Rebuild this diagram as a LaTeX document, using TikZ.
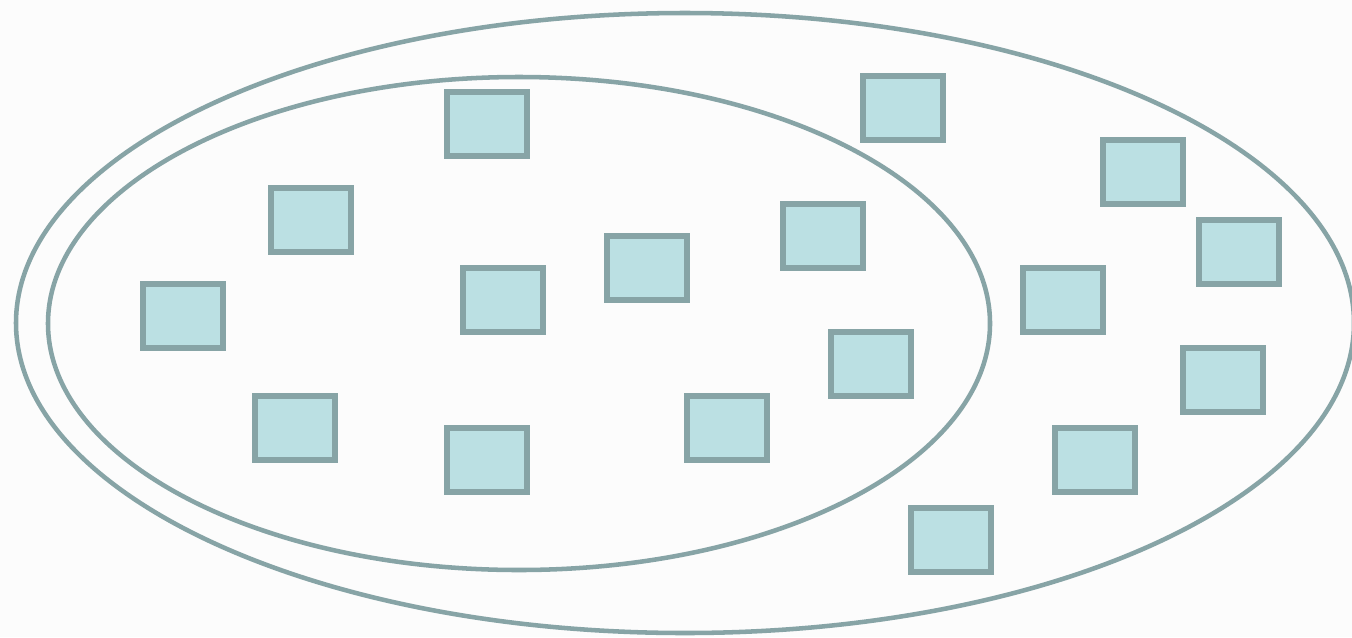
\documentclass[tikz,border=0pt]{standalone}
\usepackage{tikz}
\definecolor{setline}{HTML}{87A4A6}
\definecolor{boxfill}{HTML}{BBE0E3}
\definecolor{paper}{HTML}{FCFCFC}
\tikzset{
  elem/.style={draw=setline, fill=boxfill, line width=3.8pt, minimum width=60pt, minimum height=48pt, inner sep=0pt},
  setring/.style={draw=setline, line width=3.4pt}
}

\begin{document}
\begin{tikzpicture}[x=0.75pt,y=-0.75pt]
\useasboundingbox (0,0) rectangle (1352,637);
\fill[paper] (0,0) rectangle (1352,637);
\draw[setring] (685,323) ellipse (669 and 310);
\draw[setring] (519,323.5) ellipse (471 and 246.5);
\node[elem] (e1) at (487,124) {};
\node[elem] (e2) at (903,108) {};
\node[elem] (e3) at (311,220) {};
\node[elem] (e4) at (1143,172) {};
\node[elem] (e5) at (1239,252) {};
\node[elem] (e6) at (823,236) {};
\node[elem] (e7) at (647,268) {};
\node[elem] (e8) at (503,300) {};
\node[elem] (e9) at (183,316) {};
\node[elem] (e10) at (1063,300) {};
\node[elem] (e11) at (871,364) {};
\node[elem] (e12) at (1223,380) {};
\node[elem] (e13) at (295,428) {};
\node[elem] (e14) at (727,428) {};
\node[elem] (e15) at (487,460) {};
\node[elem] (e16) at (1095,460) {};
\node[elem] (e17) at (951,540) {};
\end{tikzpicture}
\end{document}
